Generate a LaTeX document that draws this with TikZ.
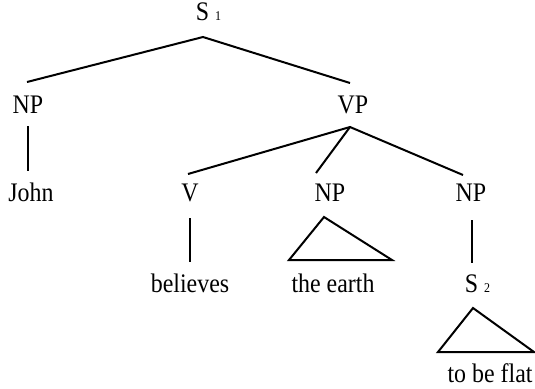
\documentclass[tikz,border=0pt]{standalone}
\usepackage{fontspec}
\setmainfont{Liberation Serif}
\begin{document}
\begin{tikzpicture}[x=1bp,y=-1bp,
  lbl/.style={font=\fontsize{24}{28}\selectfont, inner sep=0pt, anchor=base},
  branch/.style={line width=2bp, line cap=butt},
  thin branch/.style={line width=1.2bp},
  tri/.style={line width=2bp, line join=miter}]
\useasboundingbox (0,0) rectangle (535,388);
\newcommand{\tall}[1]{\scalebox{1}[1.12]{#1}}
\newcommand{\subnum}[1]{\hspace{6bp}{\fontsize{12}{14}\selectfont #1}}
% labels
\node[lbl] (s1) at (208.5,20) {\tall{S\subnum{1}}};
\node[lbl] (np1) at (28,113) {\tall{NP}};
\node[lbl] (vp) at (353,113) {\tall{VP}};
\node[lbl] (john) at (31,201) {\tall{John}};
\node[lbl] (v) at (190,201) {\tall{V}};
\node[lbl] (np2) at (330,201) {\tall{NP}};
\node[lbl] (np3) at (471,201) {\tall{NP}};
\node[lbl] (believes) at (190,292) {\tall{believes}};
\node[lbl] (earth) at (333,292) {\tall{the earth}};
\node[lbl] (s2) at (477.5,292) {\tall{S\subnum{2}}};
\node[lbl] (flat) at (490,382) {\tall{to be flat}};
% connector ends
\coordinate (s1b) at (203,37);
\coordinate (np1t) at (27,82);
\coordinate (vpt) at (350,83);
\coordinate (np1b) at (28,126);
\coordinate (johnt) at (28,171);
\coordinate (vpb) at (350,127);
\coordinate (vt) at (188,174);
\coordinate (np2t) at (316,173);
\coordinate (np3t) at (463,175);
\coordinate (vb) at (190,218);
\coordinate (believest) at (190,262);
\coordinate (np3b) at (472,220);
\coordinate (s2t) at (472,263);
\coordinate (tri1a) at (324,217);
\coordinate (tri1l) at (289,260);
\coordinate (tri1r) at (392,260);
\coordinate (tri2a) at (473,308);
\coordinate (tri2l) at (438,352);
\coordinate (tri2r) at (534,352);
% branches
\draw[branch] (np1t) -- (s1b) -- (vpt);
\draw[branch] (np1b) -- (johnt);
\draw[branch] (vt) -- (vpb) -- (np3t);
\draw[branch] (vpb) -- (np2t);
\draw[branch] (vb) -- (believest);
\draw[thin branch] (np3b) -- (s2t);
\draw[tri] (tri1a) -- (tri1l) -- (tri1r) -- cycle;
\draw[tri] (tri2a) -- (tri2l) -- (tri2r) -- cycle;
\end{tikzpicture}
\end{document}
